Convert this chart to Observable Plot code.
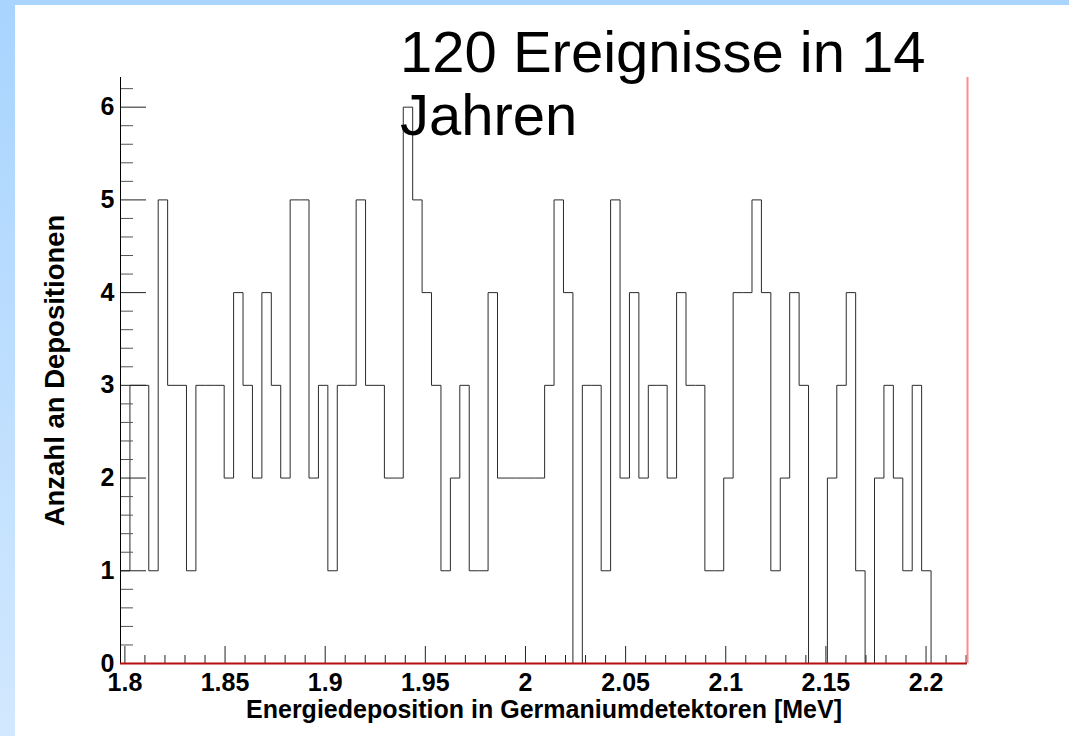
<!DOCTYPE html>
<html><head><meta charset="utf-8">
<script src="https://cdn.jsdelivr.net/npm/d3@7"></script>
<script src="https://cdn.jsdelivr.net/npm/@observablehq/plot@0.6"></script>
<style>
html,body{margin:0;padding:0;background:#fff;}
#page{position:relative;width:1069px;height:736px;overflow:hidden;background:#fff;font-family:"Liberation Sans",Arial,sans-serif;}
#topband{position:absolute;left:0;top:0;width:1069px;height:5px;background:#a8d4fe;}
#leftband{position:absolute;left:0;top:0;width:15px;height:736px;background:linear-gradient(#a8d4fe,#d2e8fe);}
#chart{position:absolute;left:0;top:0;}
#title{position:absolute;left:400px;top:20px;font-size:58px;line-height:63px;color:#000;white-space:nowrap;}
</style></head>
<body><div id="page"><div id="topband"></div><div id="leftband"></div><div id="chart"></div><div id="title"></div></div>
<script>
// ---- data ----
const titleLines = ["120 Ereignisse in 14", "Jahren"];
const xLabel = "Energiedeposition in Germaniumdetektoren [MeV]";
const yLabel = "Anzahl an Depositionen";

// histogram bin contents (fixed-width bins, starting at binLow)
const counts = [
  1, 3, 3, 1, 5, 3, 3, 1, 3, 3, 3, 2, 4, 3, 2, 4, 3, 2, 5, 5,
  2, 3, 1, 3, 3, 5, 3, 3, 2, 2, 6, 5, 4, 3, 1, 2, 3, 1, 1, 4,
  2, 2, 2, 2, 2, 3, 5, 4, 0, 3, 3, 1, 5, 2, 4, 2, 3, 3, 2, 4,
  3, 3, 1, 1, 2, 4, 4, 5, 4, 1, 2, 4, 3, 0, 0, 2, 3, 4, 1, 0,
  2, 3, 2, 1, 3, 1, 0, 0, 0, 0
];
const binLow = 1.7978;
const binWidth = 0.0047059;

const xDomain = [1.7978, 2.2207];
const yDomain = [0, 6.32];

const xMajorTicks = [1.8, 1.85, 1.9, 1.95, 2.0, 2.05, 2.1, 2.15, 2.2];
const xTickLabels = ["1.8", "1.85", "1.9", "1.95", "2", "2.05", "2.1", "2.15", "2.2"];
const xMinorTicks = [1.81, 1.82, 1.83, 1.84, 1.86, 1.87, 1.88, 1.89, 1.91, 1.92, 1.93, 1.94,
  1.96, 1.97, 1.98, 1.99, 2.01, 2.02, 2.03, 2.04, 2.06, 2.07, 2.08, 2.09, 2.11, 2.12, 2.13, 2.14,
  2.16, 2.17, 2.18, 2.19, 2.21, 2.22];
const yMajorTicks = [0, 1, 2, 3, 4, 5, 6];
const yTickLabels = ["0", "1", "2", "3", "4", "5", "6"];
const yMinorTicks = [0.2, 0.4, 0.6, 0.8, 1.2, 1.4, 1.6, 1.8, 2.2, 2.4, 2.6, 2.8, 3.2, 3.4, 3.6, 3.8,
  4.2, 4.4, 4.6, 4.8, 5.2, 5.4, 5.6, 5.8, 6.2];

// step outline points (bin edges)
const steps = counts.map((c, i) => ({x: binLow + i * binWidth, y: c}));
steps.push({x: binLow + counts.length * binWidth, y: counts[counts.length - 1]});

document.getElementById("title").innerHTML = titleLines.join("<br>");

const font = "Liberation Sans, Arial, Helvetica, sans-serif";
const chart = Plot.plot({
  width: 1069,
  height: 736,
  marginLeft: 120,
  marginRight: 102,
  marginTop: 77,
  marginBottom: 73,
  style: {fontFamily: font, background: "transparent", color: "#000"},
  x: {domain: xDomain},
  y: {domain: yDomain},
  marks: [
    Plot.line(steps, {x: "x", y: "y", curve: "step-after", stroke: "#2a2a2a", strokeWidth: 1, clip: true}),
    Plot.axisX(xMinorTicks, {tickSize: -8, tickFormat: () => "", label: null, stroke: "#222"}),
    Plot.axisX(xMajorTicks, {tickSize: -17, tickPadding: 27, label: null, stroke: "#222",
      tickFormat: d => xTickLabels[xMajorTicks.indexOf(d)], fontSize: 25, fontWeight: "bold", fill: "#000"}),
    Plot.axisY(yMinorTicks, {tickSize: -13, tickFormat: () => "", label: null, stroke: "#555"}),
    Plot.axisY(yMajorTicks, {tickSize: -26, tickPadding: 32, label: null, stroke: "#222",
      tickFormat: d => yTickLabels[yMajorTicks.indexOf(d)], fontSize: 25, fontWeight: "bold", fill: "#000"}),
    Plot.ruleX([xDomain[0]], {stroke: "#000", strokeWidth: 1}),
    Plot.ruleY([0], {stroke: "#b80e0e", strokeWidth: 1.8}),
    Plot.ruleX([xDomain[1]], {stroke: "#ff8a8a", strokeWidth: 2}),
    Plot.text([xLabel], {frameAnchor: "bottom", text: d => d, dy: 54, fontSize: 25, fontWeight: "bold", fill: "#000"}),
    Plot.text([yLabel], {frameAnchor: "left", textAnchor: "middle", text: d => d, dx: -65, rotate: -90, fontSize: 27.5, fontWeight: "bold", fill: "#000"})
  ]
});
document.getElementById("chart").appendChild(chart);
</script>
</body></html>
